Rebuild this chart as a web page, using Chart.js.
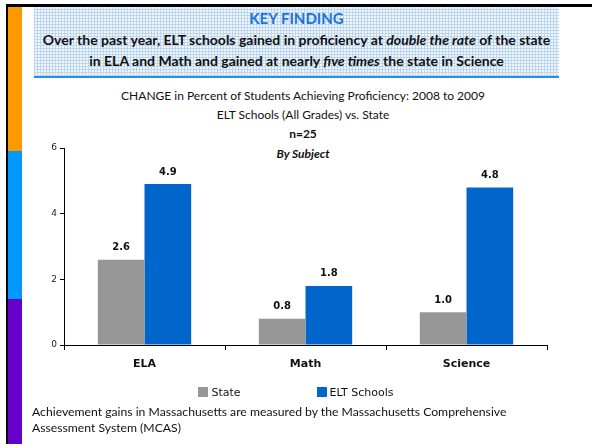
<!DOCTYPE html>
<html><head><meta charset="utf-8">
<script src="https://cdn.jsdelivr.net/npm/chart.js@4/dist/chart.umd.min.js"></script>
<style>
html,body{margin:0;padding:0;background:#fff;}
body{width:592px;height:444px;position:relative;overflow:hidden;font-family:Lato,"Open Sans",sans-serif;}
.abs{position:absolute;}
#topline{left:6px;top:4px;width:586px;height:3px;background:#000;}
#leftline{left:6px;top:4px;width:2px;height:440px;background:#000;}
#c1{left:8px;top:7px;width:14px;height:144px;background:#ff9900;}
#c2{left:8px;top:151px;width:14px;height:148px;background:#0099ff;}
#c3{left:8px;top:299px;width:14px;height:145px;background:#6600cc;}
#box{left:34px;top:7px;width:525px;height:69px;
 background-color:#f2f7fc;
 background-image:repeating-linear-gradient(0deg,#bcd5f0 0 1px,transparent 1px 3px),repeating-linear-gradient(90deg,#bcd5f0 0 1px,transparent 1px 3px);
 border-bottom:2px solid #2a8ee0;}
.ctr{left:0;width:100%;text-align:center;white-space:nowrap;}
#kf{top:2px;font-weight:bold;font-size:15px;color:#1f74d0;}
#l1{top:24px;font-weight:bold;font-size:14px;color:#111;}
#l2{top:45px;font-weight:bold;font-size:14px;color:#111;}
.tt{left:0;width:606px;text-align:center;white-space:nowrap;font-size:12px;color:#111;}
#legend{left:0;width:592px;top:386px;text-align:center;font-family:"DejaVu Sans",sans-serif;font-size:11px;color:#111;}
#legend span.item{display:inline-block;margin:0 38px;}
#legend span.sw{display:inline-block;width:10px;height:10px;margin-right:3px;vertical-align:-1px;}
#foot{left:32px;top:404px;font-size:12.2px;line-height:16px;color:#111;}
</style></head>
<body>
<div class="abs" id="topline"></div>
<div class="abs" id="leftline"></div>
<div class="abs" id="c1"></div><div class="abs" id="c2"></div><div class="abs" id="c3"></div>
<div class="abs" id="box">
 <div class="abs ctr" id="kf">KEY FINDING</div>
 <div class="abs ctr" id="l1">Over the past year, ELT schools gained in proficiency at <i>double the rate</i> of the state</div>
 <div class="abs ctr" id="l2">in ELA and Math and gained at nearly <i>five times</i> the state in Science</div>
</div>
<div class="abs tt" style="top:88px;">CHANGE in Percent of Students Achieving Proficiency: 2008 to 2009</div>
<div class="abs tt" style="top:107px;">ELT Schools (All Grades) vs. State</div>
<div class="abs tt" style="top:126px;font-weight:bold;">n=25</div>
<div class="abs tt" style="top:146px;font-weight:bold;font-style:italic;">By Subject</div>
<canvas id="chart" class="abs" style="left:0;top:0;" width="592" height="400"></canvas>
<div class="abs" id="legend"></div>
<div class="abs" id="foot">Achievement gains in Massachusetts are measured by the Massachusetts Comprehensive<br>Assessment System (MCAS)</div>
<script>
const categories = ["ELA", "Math", "Science"];
const stateValues = [2.6, 0.8, 1.0];
const eltValues = [4.9, 1.8, 4.8];
const seriesNames = ["State", "ELT Schools"];
const yTicks = [0, 2, 4, 6];

const labelPlugin = {
  id: 'barLabels',
  afterDatasetsDraw(chart) {
    const ctx = chart.ctx;
    ctx.save();
    ctx.font = 'bold 10px "DejaVu Sans", sans-serif';
    ctx.fillStyle = '#111';
    ctx.textAlign = 'center';
    ctx.textBaseline = 'middle';
    chart.data.datasets.forEach((ds, i) => {
      chart.getDatasetMeta(i).data.forEach((bar, j) => {
        ctx.fillText(ds.data[j].toFixed(1), bar.x, bar.y - 12);
      });
    });
    ctx.restore();
  }
};

const chart = new Chart(document.getElementById('chart'), {
  type: 'bar',
  data: {
    labels: categories,
    datasets: [
      { label: seriesNames[0], data: stateValues, backgroundColor: '#969696', borderWidth: 0 },
      { label: seriesNames[1], data: eltValues, backgroundColor: '#0066cc', borderWidth: 0 }
    ]
  },
  options: {
    responsive: false,
    animation: false,
    layout: { padding: { left: 0, right: 45, top: 148, bottom: 25 } },
    plugins: { legend: { display: false }, title: { display: false }, tooltip: { enabled: false } },
    datasets: { bar: { categoryPercentage: 0.58, barPercentage: 1.0 } },
    scales: {
      y: {
        min: 0, max: 6,
        afterFit(s) { s.width = 64; },
        afterBuildTicks(s) { s.ticks = yTicks.map(v => ({ value: v })); },
        grid: { drawOnChartArea: false, drawTicks: true, tickLength: 4, color: '#000' },
        border: { display: true, color: '#000', width: 1 },
        ticks: { font: { family: 'DejaVu Sans', size: 9 }, color: '#222', padding: 3 }
      },
      x: {
        afterFit(s) { s.height = 30; },
        grid: { drawOnChartArea: false, drawTicks: true, tickLength: 5, color: '#000', offset: true },
        border: { display: true, color: '#000', width: 1 },
        ticks: { font: { family: 'DejaVu Sans', size: 11, weight: 'bold' }, color: '#111', padding: 8 }
      }
    }
  },
  plugins: [labelPlugin]
});

const lg = document.getElementById('legend');
chart.data.datasets.forEach(ds => {
  const it = document.createElement('span');
  it.className = 'item';
  const sw = document.createElement('span');
  sw.className = 'sw';
  sw.style.background = ds.backgroundColor;
  it.appendChild(sw);
  it.appendChild(document.createTextNode(ds.label));
  lg.appendChild(it);
});
</script>
</body></html>
